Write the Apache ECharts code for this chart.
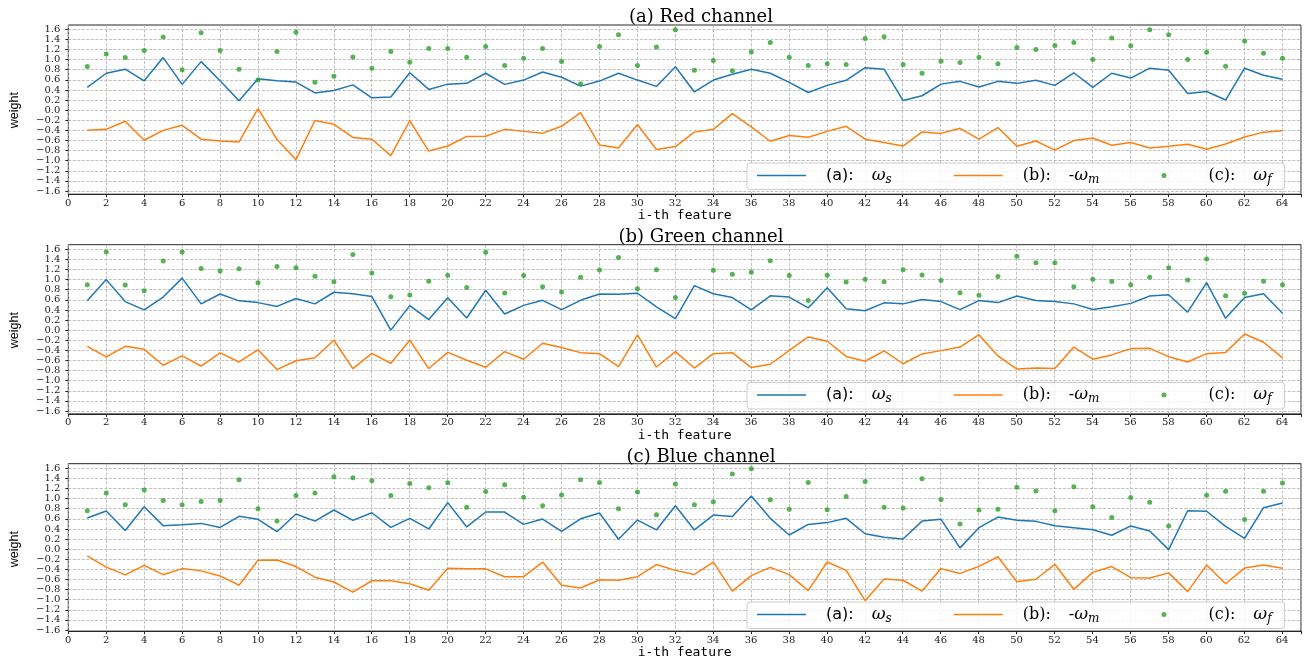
<!DOCTYPE html>
<html><head><meta charset="utf-8">
<script src="https://cdn.jsdelivr.net/npm/echarts@6.0.0/dist/echarts.min.js"></script>
<style>html,body{margin:0;padding:0;background:#fff;}#c{width:1304px;height:660px;}</style>
</head><body><div id="c"></div>
<script>
const features = [1,2,3,4,5,6,7,8,9,10,11,12,13,14,15,16,17,18,19,20,21,22,23,24,25,26,27,28,29,30,31,32,33,34,35,36,37,38,39,40,41,42,43,44,45,46,47,48,49,50,51,52,53,54,55,56,57,58,59,60,61,62,63,64];
const xTickLabels = [0,2,4,6,8,10,12,14,16,18,20,22,24,26,28,30,32,34,36,38,40,42,44,46,48,50,52,54,56,58,60,62,64];
const titles = ['(a) Red channel', '(b) Green channel', '(c) Blue channel'];

const redWs = [0.45,0.73,0.81,0.58,1.04,0.51,0.96,0.58,0.185,0.62, 0.58,0.555,0.34,0.39,0.50,0.245,0.26,0.74,0.41,0.515, 0.53,0.73,0.51,0.595,0.755,0.65,0.475,0.575,0.73,0.595, 0.47,0.86,0.36,0.595,0.71,0.81,0.73,0.55,0.35,0.49, 0.59,0.84,0.81,0.19,0.285,0.515,0.57,0.46,0.57,0.53, 0.59,0.49,0.74,0.45,0.73,0.635,0.83,0.79,0.33,0.37, 0.20,0.83,0.69,0.61];
const redWm = [-0.40,-0.38,-0.22,-0.595,-0.40,-0.30,-0.575,-0.61,-0.63,0.03, -0.58,-0.98,-0.205,-0.28,-0.54,-0.575,-0.90,-0.21,-0.81,-0.71, -0.52,-0.515,-0.38,-0.42,-0.455,-0.32,-0.05,-0.69,-0.75,-0.285, -0.78,-0.72,-0.435,-0.38,-0.07,-0.33,-0.615,-0.50,-0.535,-0.42, -0.32,-0.575,-0.64,-0.71,-0.43,-0.46,-0.36,-0.575,-0.345,-0.715, -0.61,-0.79,-0.60,-0.55,-0.695,-0.64,-0.75,-0.715,-0.675,-0.775, -0.67,-0.53,-0.435,-0.41];
const redWf = [0.865,1.11,1.04,1.18,1.45,0.80,1.53,1.18,0.81,0.595, 1.16,1.54,0.55,0.67,1.05,0.83,1.16,0.95,1.22,1.22, 1.045,1.26,0.885,1.025,1.22,0.965,0.52,1.26,1.49,0.885, 1.25,1.59,0.79,0.985,0.78,1.15,1.34,1.045,0.885,0.92, 0.905,1.42,1.455,0.905,0.73,0.97,0.945,1.045,0.92,1.24, 1.20,1.28,1.34,1.00,1.43,1.275,1.59,1.49,1.00,1.145, 0.87,1.37,1.125,1.025];

const greenWs = [0.58,1.00,0.565,0.40,0.655,1.03,0.52,0.715,0.58,0.545, 0.47,0.625,0.52,0.75,0.72,0.665,0.0,0.485,0.21,0.64, 0.24,0.79,0.32,0.49,0.59,0.405,0.59,0.715,0.71,0.73, 0.46,0.23,0.88,0.72,0.645,0.40,0.68,0.655,0.44,0.84, 0.425,0.385,0.54,0.52,0.605,0.565,0.405,0.585,0.545,0.675, 0.585,0.565,0.52,0.41,0.465,0.53,0.675,0.70,0.355,0.94, 0.235,0.645,0.72,0.335];
const greenWm = [-0.32,-0.53,-0.32,-0.38,-0.695,-0.51,-0.71,-0.45,-0.63,-0.39, -0.78,-0.605,-0.545,-0.20,-0.76,-0.46,-0.655,-0.20,-0.76,-0.44, -0.595,-0.735,-0.425,-0.575,-0.26,-0.345,-0.445,-0.465,-0.72,-0.095, -0.73,-0.425,-0.75,-0.465,-0.445,-0.74,-0.675,-0.40,-0.135,-0.22, -0.52,-0.615,-0.41,-0.665,-0.47,-0.405,-0.335,-0.09,-0.51,-0.77, -0.75,-0.76,-0.335,-0.575,-0.49,-0.365,-0.36,-0.525,-0.63,-0.465, -0.44,-0.075,-0.24,-0.55];
const greenWf = [0.90,1.545,0.895,0.78,1.37,1.545,1.22,1.17,1.215,0.94, 1.26,1.235,1.065,0.96,1.495,1.13,0.66,0.695,0.97,1.085, 0.845,1.54,0.735,1.08,0.86,0.755,1.045,1.19,1.44,0.82, 1.195,0.645,1.65,1.185,1.105,1.145,1.375,1.08,0.585,1.085, 0.955,1.005,0.96,1.195,1.09,0.985,0.74,0.69,1.06,1.46, 1.335,1.335,0.86,1.005,0.965,0.90,1.045,1.235,0.99,1.41, 0.68,0.73,0.97,0.90];

const blueWs = [0.615,0.755,0.37,0.84,0.465,0.485,0.51,0.43,0.65,0.59, 0.345,0.695,0.555,0.775,0.57,0.72,0.43,0.61,0.40,0.92, 0.44,0.735,0.735,0.49,0.595,0.35,0.60,0.715,0.195,0.575, 0.38,0.86,0.38,0.675,0.645,1.05,0.61,0.28,0.49,0.525, 0.61,0.305,0.235,0.20,0.555,0.59,0.025,0.425,0.635,0.57, 0.55,0.465,0.425,0.385,0.275,0.46,0.36,-0.01,0.76,0.75, 0.45,0.215,0.82,0.915];
const blueWm = [-0.135,-0.355,-0.51,-0.32,-0.505,-0.385,-0.43,-0.53,-0.715,-0.22, -0.215,-0.345,-0.555,-0.65,-0.85,-0.625,-0.625,-0.685,-0.815,-0.38, -0.39,-0.39,-0.545,-0.545,-0.255,-0.715,-0.77,-0.605,-0.615,-0.545, -0.305,-0.42,-0.50,-0.255,-0.83,-0.525,-0.36,-0.505,-0.82,-0.255, -0.42,-1.02,-0.59,-0.615,-0.83,-0.385,-0.48,-0.34,-0.15,-0.645, -0.595,-0.30,-0.795,-0.46,-0.345,-0.565,-0.57,-0.47,-0.84,-0.315, -0.685,-0.375,-0.315,-0.38];
const blueWf = [0.76,1.11,0.88,1.17,0.965,0.88,0.945,0.965,1.375,0.80, 0.555,1.06,1.11,1.435,1.415,1.355,1.06,1.30,1.215,1.315, 0.83,1.14,1.275,1.025,0.86,1.07,1.375,1.32,0.80,1.13, 0.68,1.29,0.88,0.94,1.485,1.59,0.98,0.79,1.32,0.78, 1.04,1.34,0.83,0.815,1.395,0.985,0.50,0.775,0.79,1.225, 1.15,0.76,1.235,0.84,0.625,1.02,0.93,0.46,1.62,1.065, 1.145,0.585,1.145,1.31];

const panels = [
  {ws: redWs, wm: redWm, wf: redWf},
  {ws: greenWs, wm: greenWm, wf: greenWf},
  {ws: blueWs, wm: blueWm, wf: blueWf}
];

const C_BLUE = '#1f77b4', C_ORANGE = '#ff7f0e', C_GREEN = '#2ca02c';
const SPINE = '#262626';
const GRID_LEFT = 68.3, GRID_W = 1233.2;
const FRAME_TOPS = [25, 244.7, 463.7], FRAME_H = 169.2;
const DATA_TOPS = [29.3, 249.3, 468.3], DATA_H = 161.7;
const LEGEND_TOPS = [163, 382.5, 602];
const TITLE_TOPS = [3.5, 223.5, 443];

const serif = '"DejaVu Serif", "Liberation Serif", serif';
const sans = '"DejaVu Sans", "Liberation Sans", sans-serif';
const mono = '"DejaVu Sans Mono", "Liberation Mono", monospace';
const gridLine = {show: true, lineStyle: {color: '#b0b0b0', type: [3, 1.5], width: 0.8}};

function yFmt(v) {
  const k = Math.round(v * 10);
  return (k < 0 ? '\u2212' : '') + (Math.abs(k) / 10).toFixed(1);
}
function xFmt(v) {
  const r = Math.round(v);
  return (Math.abs(v - r) < 1e-6 && xTickLabels.indexOf(r) >= 0) ? String(r) : '';
}

const legendRich = {
  sp: {width: 15},
  sp2: {width: 18},
  la: {fontFamily: sans, fontSize: 16, color: '#000'},
  lb: {fontFamily: serif, fontSize: 16, color: '#000'},
  w: {fontFamily: serif, fontStyle: 'italic', fontSize: 17, color: '#000'},
  sub: {fontFamily: serif, fontStyle: 'italic', fontSize: 12, color: '#000', padding: [8, 0, 0, 0]}
};
function legendFmt(name) {
  if (name === 'ws') return '{sp|}{la|(a):}{sp2|}{w|\u03c9}{sub|s}';
  if (name === 'wm') return '{sp|}{lb|(b):}{sp2|}{lb|-}{w|\u03c9}{sub|m}';
  return '{sp|}{lb|(c):}{sp2|}{w|\u03c9}{sub|f}';
}
const LINE_ICON = 'path://M0,0H49V1.5H0Z';

const grid = [], xAxis = [], yAxis = [], series = [], legend = [], title = [];
panels.forEach((p, i) => {
  grid.push({left: GRID_LEFT, width: GRID_W, top: FRAME_TOPS[i], height: FRAME_H, show: true,
    borderColor: SPINE, borderWidth: 1, backgroundColor: 'transparent'});
  grid.push({left: GRID_LEFT, width: GRID_W, top: DATA_TOPS[i], height: DATA_H, show: false});

  xAxis.push({
    gridIndex: 2 * i, type: 'value', min: 0, max: 65, interval: 2,
    name: 'i-th feature', nameLocation: 'middle', nameGap: 12,
    nameTextStyle: {fontFamily: mono, fontSize: 13, color: '#000'},
    axisLine: {show: true, onZero: false, lineStyle: {color: SPINE, width: 1}},
    axisTick: {show: true, length: 3, lineStyle: {color: SPINE}},
    axisLabel: {show: true, margin: 4, fontFamily: serif, fontSize: 10, color: '#222', formatter: xFmt, hideOverlap: false},
    splitLine: gridLine
  });
  xAxis.push({gridIndex: 2 * i + 1, type: 'value', min: 0, max: 65, show: false});

  yAxis.push({gridIndex: 2 * i, type: 'value', min: -1.7, max: 1.7, show: false});
  yAxis.push({
    gridIndex: 2 * i + 1, type: 'value', min: -1.6, max: 1.6, interval: 0.2,
    name: 'weight', nameLocation: 'middle', nameGap: 47, nameRotate: 90,
    nameTextStyle: {fontFamily: '"Liberation Sans", "DejaVu Sans", sans-serif', fontSize: 12.5, color: '#000'},
    axisLine: {show: false, onZero: false},
    axisTick: {show: true, length: 3, lineStyle: {color: SPINE}},
    axisLabel: {show: true, margin: 8, fontFamily: serif, fontSize: 10, color: '#222', formatter: yFmt, hideOverlap: false},
    splitLine: gridLine
  });

  series.push({
    name: 'ws', type: 'line', xAxisIndex: 2 * i + 1, yAxisIndex: 2 * i + 1,
    data: features.map((f, k) => [f, p.ws[k]]),
    symbol: 'none', lineStyle: {color: C_BLUE, width: 1.5}, itemStyle: {color: C_BLUE}, z: 3
  });
  series.push({
    name: 'wm', type: 'line', xAxisIndex: 2 * i + 1, yAxisIndex: 2 * i + 1,
    data: features.map((f, k) => [f, p.wm[k]]),
    symbol: 'none', lineStyle: {color: C_ORANGE, width: 1.5}, itemStyle: {color: C_ORANGE}, z: 3
  });
  series.push({
    name: 'wf', type: 'scatter', xAxisIndex: 2 * i + 1, yAxisIndex: 2 * i + 1,
    data: features.map((f, k) => [f, p.wf[k]]),
    symbol: 'circle', symbolSize: 5, itemStyle: {color: C_GREEN}, z: 4
  });
  legend.push({
    left: 747, top: LEGEND_TOPS[i], orient: 'horizontal',
    itemWidth: 49, itemHeight: 5, itemGap: 62, padding: [4, 13, 4, 10],
    backgroundColor: 'rgba(255,255,255,0.8)', borderColor: '#cccccc', borderWidth: 1, borderRadius: 3,
    selectedMode: false, symbolKeepAspect: true,
    itemStyle: {borderWidth: 0},
    data: [{name: 'ws', icon: LINE_ICON}, {name: 'wm', icon: LINE_ICON}, {name: 'wf', icon: 'circle'}],
    formatter: legendFmt,
    textStyle: {rich: legendRich}
  });
  title.push({
    text: titles[i], left: 696, top: TITLE_TOPS[i], textAlign: 'center',
    textStyle: {fontFamily: serif, fontSize: 18, fontWeight: 'normal', color: '#000'}
  });
});

const chart = echarts.init(document.getElementById('c'), null, {renderer: 'canvas'});
chart.setOption({animation: false, backgroundColor: '#fff', title, grid, xAxis, yAxis, series, legend});
</script></body></html>
